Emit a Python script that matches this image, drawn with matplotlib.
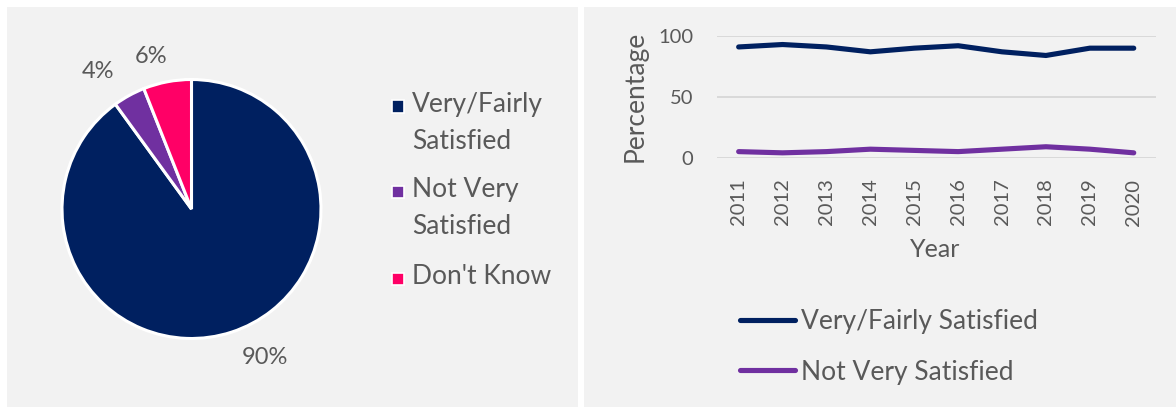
import matplotlib

matplotlib.use('Agg')
import matplotlib.pyplot as plt
from matplotlib.patches import Rectangle

# Pie data
pie_labels = ['Very/Fairly Satisfied', 'Not Very Satisfied', "Don't Know"]
pie_legend_labels = ['Very/Fairly\nSatisfied', 'Not Very\nSatisfied', "Don't Know"]
pie_values = [90, 4, 6]
pie_colors = ['#002060', '#7030a0', '#ff0066']

# Trend data
years = [2011, 2012, 2013, 2014, 2015, 2016, 2017, 2018, 2019, 2020]
satisfied = [91, 93, 91, 87, 90, 92, 87, 84, 90, 90]
not_satisfied = [5, 4, 5, 7, 6, 5, 7, 9, 7, 4]

TEXT = '#595959'
W, H = 1176, 407

plt.rcParams['font.family'] = ['Lato', 'DejaVu Sans']
plt.rcParams['text.color'] = TEXT

fig = plt.figure(figsize=(W / 100, H / 100), dpi=100, facecolor='white')


def fx(px):
    return px / W


def fy(py):
    return 1 - py / H


# Panel backgrounds
fig.patches.append(Rectangle((fx(7), 0), fx(578 - 7), fy(7), transform=fig.transFigure,
                             facecolor='#f2f2f2', edgecolor='none', zorder=-10))
fig.patches.append(Rectangle((fx(584), 0), fx(W - 584), fy(7), transform=fig.transFigure,
                             facecolor='#f2f2f2', edgecolor='none', zorder=-10))

# Pie chart
cx, cy, r = 191.5, 209, 129.5
half = 1.25 * r
ax1 = fig.add_axes([fx(cx - half), fy(cy + half), fx(2 * half), (2 * half) / H])
wedges, texts, autotexts = ax1.pie(
    pie_values,
    colors=pie_colors,
    startangle=90,
    counterclock=False,
    autopct='%d%%',
    pctdistance=1.26,
    wedgeprops=dict(edgecolor='white', linewidth=2.2),
    textprops=dict(color=TEXT, fontsize=17),
)
# Excel's "best fit" label spots (in pie radii)
label_spots = [(0.57, -1.15), (-0.72, 1.06), (-0.31, 1.18)]
for t, pos in zip(autotexts, label_spots):
    t.set_position(pos)
ax1.set_xlim(-1.25, 1.25)
ax1.set_ylim(-1.25, 1.25)
ax1.set_aspect('auto')
ax1.axis('off')

# Pie legend, first line of each entry next to its swatch
leg_rows = [106, 191, 278]
for lab, col, row in zip(pie_legend_labels, pie_colors, leg_rows):
    fig.patches.append(Rectangle((fx(391.5), fy(row + 6.5)), fx(12), 12 / H, transform=fig.transFigure,
                                 facecolor=col, edgecolor='white', linewidth=1.2))
    fig.text(fx(412), fy(row - 14), lab, fontsize=19, color=TEXT, va='top', ha='left',
             linespacing=1.58)

# Line chart
ax2 = fig.add_axes([fx(716.7), fy(157.7), fx(1155.7 - 716.7), (157.7 - 36) / H])
ax2.set_facecolor('none')
ax2.plot(years, satisfied, color='#002060', lw=3.7, solid_capstyle='round',
         solid_joinstyle='round', label='Very/Fairly Satisfied', zorder=3)
ax2.plot(years, not_satisfied, color='#7030a0', lw=3.7, solid_capstyle='round',
         solid_joinstyle='round', label='Not Very Satisfied', zorder=3)
ax2.set_xlim(years[0] - 0.5, years[-1] + 0.5)
ax2.set_ylim(0, 100)
ax2.set_yticks([0, 50, 100])
ax2.set_xticks(years)
ax2.set_xticklabels([str(y) for y in years], rotation=90)
ax2.grid(axis='y', color='#d9d9d9', linewidth=1.4)
ax2.set_axisbelow(True)
for s in ax2.spines.values():
    s.set_visible(False)
ax2.tick_params(axis='both', length=0, labelsize=14.5, labelcolor=TEXT)
ax2.tick_params(axis='y', pad=17)
ax2.tick_params(axis='x', pad=15)
ax2.set_ylabel('Percentage', fontsize=19, color=TEXT)
ax2.set_xlabel('Year', fontsize=18, color=TEXT)
ax2.yaxis.set_label_coords((648 - 716.7) / 439, 0.5)
ax2.xaxis.set_label_coords(0.497, (157.7 - 238) / 121.7)

ax2.legend(loc='center left', bbox_to_anchor=(fx(740), fy(347)), bbox_transform=fig.transFigure,
           frameon=False, fontsize=19, handlelength=2.1, handletextpad=0.2, labelspacing=0.95,
           borderaxespad=0, borderpad=0, labelcolor=TEXT)

fig.savefig('out.png', dpi=100, facecolor='white')
